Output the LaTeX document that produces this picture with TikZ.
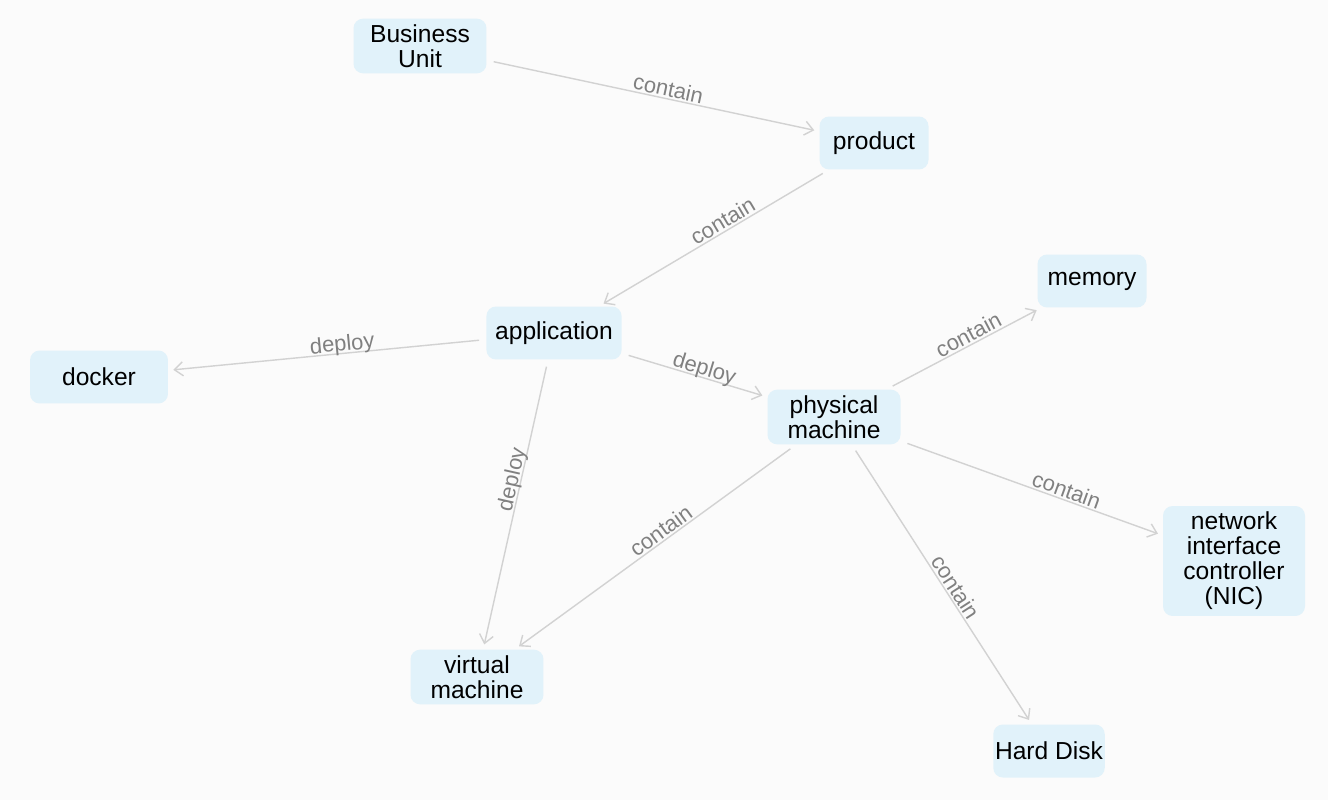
\documentclass[tikz,border=0pt]{standalone}
\usepackage{fontspec}
\setmainfont{Liberation Sans}
\usepackage{tikz}
\usetikzlibrary{arrows.meta}

\definecolor{nodefill}{HTML}{E1F2FA}
\definecolor{edgegray}{HTML}{D2D2D2}
\definecolor{lblgray}{HTML}{808080}
\definecolor{bggray}{HTML}{FBFBFB}

\begin{document}
\begin{tikzpicture}[
    x=0.02cm, y=-0.02cm,
    ent/.style={rectangle, rounded corners=5.5pt, fill=nodefill,
      minimum width=2.18cm, minimum height=1.06cm, inner xsep=5pt,
      align=center, font=\fontsize{14}{14.2}\selectfont},
    wide/.style={minimum width=2.66cm},
    arr/.style={-{Straight Barb[length=1.7mm, width=2.8mm]}, line width=0.8pt,
      draw=edgegray, shorten <=0.14cm, shorten >=0.1cm},
    lbl/.style={sloped, above, inner sep=1pt, text depth=0pt, text=lblgray,
      font=\fontsize{12.5}{12.5}\selectfont}
  ]
    \fill[bggray] (0,0) rectangle (1328,800);
    \useasboundingbox (0,0) rectangle (1328,800);

    \node[ent, wide] (bu) at (420,46) {Business\\Unit};
    \node[ent] (prod) at (874,143) {product};
    \node[ent] (mem) at (1092,281) {memory};
    \node[ent] (app) at (554,333) {application};
    \node[ent, minimum width=2.76cm] (dock) at (99,377) {docker};
    \node[ent, wide] (phys) at (834,417) {physical\\machine};
    \node[ent, minimum width=2.84cm, minimum height=2.2cm] (nic) at (1234,561)
      {network\\interface\\controller\\(NIC)};
    \node[ent, wide] (vm) at (477,677) {virtual\\machine};
    \node[ent, inner xsep=1pt] (hdd) at (1049,751) {Hard Disk};

    \draw[arr] (bu) -- node[lbl, pos=0.54] (l1) {contain} (prod);
    \draw[arr] (prod) -- node[lbl, pos=0.44] (l2) {contain} (app);
    \draw[arr] (app) -- node[lbl, pos=0.45] (l3) {deploy} (dock);
    \draw[arr] (app) -- node[lbl, pos=0.55] (l4) {deploy} (phys);
    \draw[arr] (app) -- node[lbl, pos=0.42] (l5) {deploy} (vm);
    \draw[arr] (phys) -- node[lbl, pos=0.56] (l6) {contain} (mem);
    \draw[arr] (phys) -- node[lbl, pos=0.62] (l7) {contain} (nic);
    \draw[arr] (phys) -- node[lbl, pos=0.53] (l8) {contain} (hdd);
    \draw[arr] (phys) -- node[lbl, pos=0.46] (l9) {contain} (vm);
  \end{tikzpicture}
\end{document}
